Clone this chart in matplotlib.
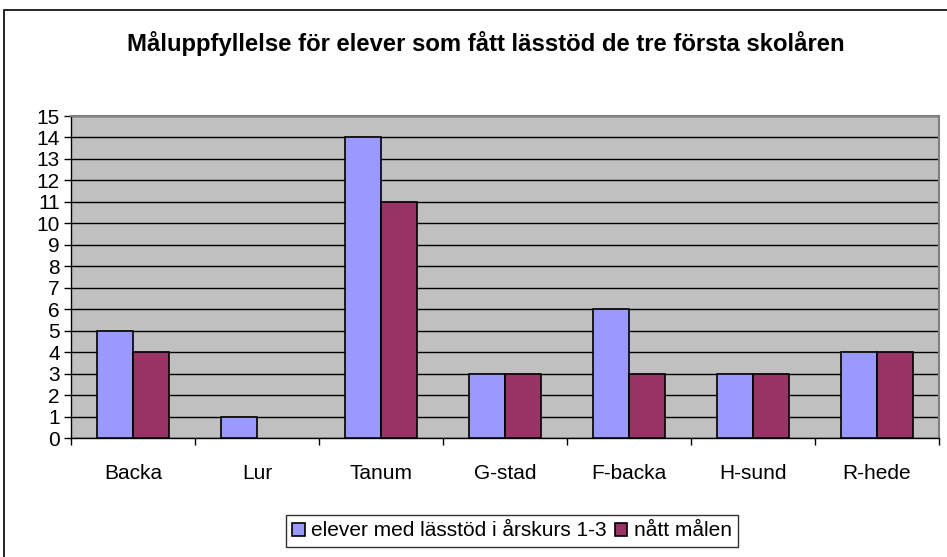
"""Excel-style grouped bar chart: måluppfyllelse för elever med lässtöd -> out.png"""
import matplotlib
matplotlib.use("Agg")
import matplotlib.pyplot as plt
from matplotlib.patches import Rectangle
import numpy as np

plt.rcParams["font.family"] = ["Liberation Sans", "DejaVu Sans"]

schools = ["Backa", "Lur", "Tanum", "G-stad", "F-backa", "H-sund", "R-hede"]
med_lasstod = [5, 1, 14, 3, 6, 3, 4]
natt_malen = [4, 0, 11, 3, 3, 3, 4]
series_names = ["elever med lässtöd i årskurs 1-3", "nått målen"]
title = "Måluppfyllelse för elever som fått lässtöd de tre första skolåren"

W, H = 947, 557
fig = plt.figure(figsize=(W / 100, H / 100), dpi=100)
# plot area in pixels: x 71..939, y 116..438
ax = fig.add_axes([71 / W, 1 - 438 / H, (939 - 71) / W, (438 - 116) / H])
ax.set_facecolor("#C0C0C0")

x = np.arange(len(schools))
bw = 0.287
kw = dict(edgecolor="black", linewidth=1.2, zorder=3)
ax.bar(x - bw / 2, med_lasstod, bw, color="#9999FF", label=series_names[0], **kw)
# zero-height bars would leave a black line at the axis
natt = np.array(natt_malen, dtype=float)
ax.bar(x[natt > 0] + bw / 2, natt[natt > 0], bw, color="#993366",
       label=series_names[1], **kw)

ax.set_xlim(-0.5, len(schools) - 0.5)
ax.set_ylim(0, 15)
ax.set_yticks(range(0, 16))
ax.yaxis.grid(True, color="black", linewidth=1.0, zorder=1)
ax.set_axisbelow(True)

ax.set_xticks(x)
ax.set_xticklabels(schools, fontsize=15)
ax.tick_params(axis="x", length=0, pad=19)
ax.set_xticks(np.arange(-0.5, len(schools)), minor=True)
ax.tick_params(axis="x", which="minor", length=5, width=1, direction="out")
ax.tick_params(axis="y", length=5, width=1, direction="out", labelsize=15, pad=3)

for side in ("top", "right"):
    ax.spines[side].set_color("#808080")
    ax.spines[side].set_linewidth(1.5)
for side in ("left", "bottom"):
    ax.spines[side].set_color("black")
    ax.spines[side].set_linewidth(1.0)

fig.text(485.5 / W, 1 - 43 / H, title, ha="center", va="center",
         fontsize=17.2, fontweight="bold")

leg = fig.legend(loc="center", bbox_to_anchor=(512 / W, 1 - 531 / H), ncol=2,
                 fontsize=15, frameon=True, fancybox=False, edgecolor="black",
                 handlelength=0.6, handleheight=0.6, handletextpad=0.3,
                 columnspacing=0.4, borderpad=0.3, borderaxespad=0)
leg.get_frame().set_linewidth(1.0)

# outer chart-area border
fig.patches.append(Rectangle((4 / W, -0.01), 1.0, 1 - 10 / H + 0.01,
                             transform=fig.transFigure, fill=False,
                             edgecolor="black", linewidth=1.2))

fig.savefig("out.png", dpi=100)
